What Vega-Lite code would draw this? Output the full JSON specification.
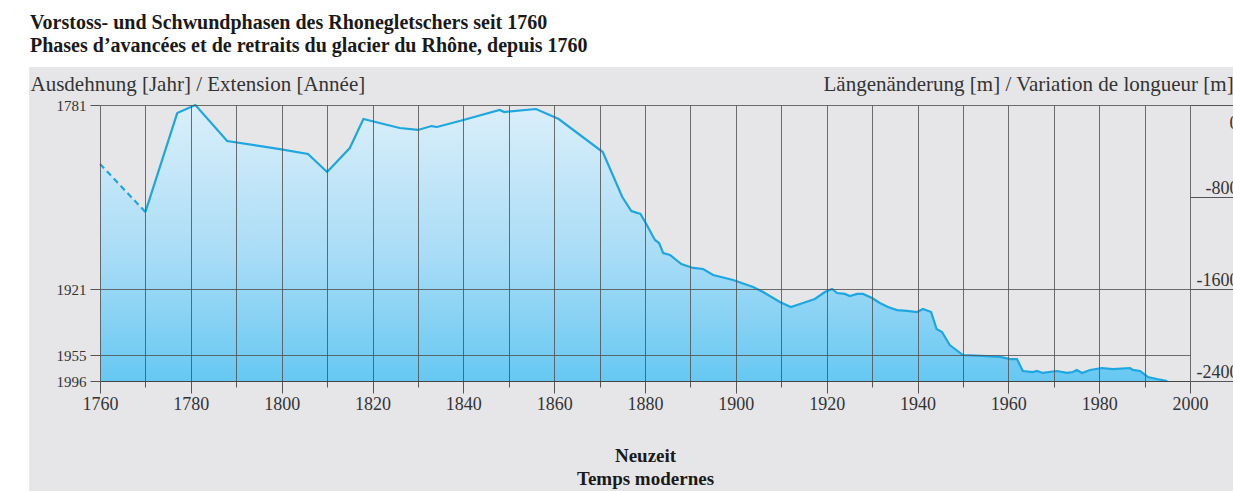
{
  "$schema": "https://vega.github.io/schema/vega-lite/v6.json",
  "width": 1090,
  "height": 276,
  "autosize": {"type": "none"},
  "padding": {"left": 100, "top": 105, "right": 43, "bottom": 110},
  "background": "white",
  "config": {
    "view": {"stroke": null},
    "font": "Liberation Serif",
    "axis": {"labelFont": "Liberation Serif", "titleFont": "Liberation Serif", "labelColor": "#333333", "titleColor": "#333333"}
  },
  "title": {
    "text": ["Vorstoss- und Schwundphasen des Rhonegletschers seit 1760", "Phases d’avancées et de retraits du glacier du Rhône, depuis 1760"],
    "font": "Liberation Serif",
    "fontSize": 20,
    "fontWeight": "bold",
    "color": "#1a1a1a",
    "anchor": "start",
    "frame": "group",
    "dx": -70,
    "lineHeight": 23,
    "offset": 11
  },
  "datasets": {
    "glacier": [
      {"year": 1760, "m": -513},
      {"year": 1770, "m": -930},
      {"year": 1777, "m": -70},
      {"year": 1781, "m": 0},
      {"year": 1788, "m": -313},
      {"year": 1799.6, "m": -383},
      {"year": 1805.8, "m": -426},
      {"year": 1810, "m": -583},
      {"year": 1815, "m": -374},
      {"year": 1818, "m": -122},
      {"year": 1826, "m": -200},
      {"year": 1830, "m": -217},
      {"year": 1833, "m": -183},
      {"year": 1834.2, "m": -191},
      {"year": 1840, "m": -130},
      {"year": 1848, "m": -43},
      {"year": 1849, "m": -61},
      {"year": 1856, "m": -35},
      {"year": 1861, "m": -122},
      {"year": 1870.7, "m": -409},
      {"year": 1875, "m": -800},
      {"year": 1877, "m": -922},
      {"year": 1879, "m": -948},
      {"year": 1880.4, "m": -1043},
      {"year": 1882.2, "m": -1174},
      {"year": 1883.1, "m": -1200},
      {"year": 1884, "m": -1287},
      {"year": 1885.5, "m": -1304},
      {"year": 1888, "m": -1383},
      {"year": 1890.6, "m": -1417},
      {"year": 1892.8, "m": -1426},
      {"year": 1895, "m": -1478},
      {"year": 1899.4, "m": -1522},
      {"year": 1903.8, "m": -1583},
      {"year": 1906, "m": -1626},
      {"year": 1909.7, "m": -1713},
      {"year": 1912.1, "m": -1757},
      {"year": 1914.8, "m": -1722},
      {"year": 1917.4, "m": -1687},
      {"year": 1919.6, "m": -1626},
      {"year": 1921.2, "m": -1600},
      {"year": 1922.3, "m": -1635},
      {"year": 1924, "m": -1643},
      {"year": 1925.1, "m": -1661},
      {"year": 1926.7, "m": -1643},
      {"year": 1928, "m": -1643},
      {"year": 1930, "m": -1678},
      {"year": 1931.7, "m": -1722},
      {"year": 1933.5, "m": -1757},
      {"year": 1935.5, "m": -1783},
      {"year": 1937.7, "m": -1791},
      {"year": 1939.9, "m": -1800},
      {"year": 1941.2, "m": -1774},
      {"year": 1943, "m": -1800},
      {"year": 1944.2, "m": -1948},
      {"year": 1945.4, "m": -1974},
      {"year": 1947.1, "m": -2087},
      {"year": 1950, "m": -2174},
      {"year": 1955.3, "m": -2183},
      {"year": 1958.2, "m": -2191},
      {"year": 1960.4, "m": -2209},
      {"year": 1961.9, "m": -2209},
      {"year": 1963.2, "m": -2313},
      {"year": 1965.4, "m": -2322},
      {"year": 1966.3, "m": -2313},
      {"year": 1967.6, "m": -2330},
      {"year": 1970.7, "m": -2313},
      {"year": 1972.9, "m": -2330},
      {"year": 1974.2, "m": -2322},
      {"year": 1975.1, "m": -2304},
      {"year": 1976.2, "m": -2330},
      {"year": 1978, "m": -2304},
      {"year": 1980.6, "m": -2287},
      {"year": 1983, "m": -2296},
      {"year": 1986.8, "m": -2287},
      {"year": 1987.4, "m": -2304},
      {"year": 1989, "m": -2313},
      {"year": 1990.7, "m": -2365},
      {"year": 1992.7, "m": -2383},
      {"year": 1995, "m": -2400}
    ]
  },
  "layer": [
    {
      "data": {"values": [{}]},
      "mark": {"type": "rect", "color": "#e6e6e8"},
      "encoding": {
        "x": {"datum": 1744.4, "type": "quantitative", "scale": {"domain": [1760, 2000], "nice": false, "zero": false}},
        "x2": {"datum": 2040},
        "y": {"datum": 330, "type": "quantitative", "scale": {"domain": [-2400, 0], "nice": false, "zero": false}, "axis": null},
        "y2": {"datum": -3600}
      }
    },
    {
      "data": {"name": "glacier"},
      "mark": {
        "type": "area",
        "line": false,
        "fill": {
          "gradient": "linear", "x1": 0, "y1": 0, "x2": 0, "y2": 1,
          "stops": [
            {"offset": 0, "color": "#dbeffa"},
            {"offset": 0.55, "color": "#a8dcf6"},
            {"offset": 1, "color": "#66c8f2"}
          ]
        }
      },
      "encoding": {
        "x": {
          "field": "year", "type": "quantitative",
          "scale": {"domain": [1760, 2000], "nice": false, "zero": false},
          "axis": {
            "values": [1760, 1770, 1780, 1790, 1800, 1810, 1820, 1830, 1840, 1850, 1860, 1870, 1880, 1890, 1900, 1910, 1920, 1930, 1940, 1950, 1960, 1970, 1980, 1990, 2000],
            "format": "d",
            "labelExpr": "datum.value % 20 === 0 ? datum.label : ''",
            "labelFontSize": 18,
            "labelPadding": 2,
            "labelFlush": false,
            "labelOverlap": false,
            "tickSize": {"condition": {"test": "datum.value % 20 === 0", "value": 12}, "value": 6},
            "tickColor": "#555555",
            "domainColor": "#444444",
            "grid": true,
            "gridColor": "#555555",
            "gridOpacity": 0.85,
            "zindex": 1,
            "title": ["Neuzeit", "Temps modernes"],
            "titleFontWeight": "bold",
            "titleFontSize": 19,
            "titleColor": "#1a1a1a",
            "titleBaseline": "top",
            "titleLineHeight": 23,
            "titleY": 65
          }
        },
        "y": {
          "field": "m", "type": "quantitative",
          "scale": {"domain": [-2400, 0], "nice": false, "zero": false},
          "axis": {
            "orient": "left",
            "values": [0, -1600, -2178, -2400],
            "labelExpr": "datum.value == 0 ? '1781' : datum.value == -1600 ? '1921' : datum.value == -2400 ? '1996' : '1955'",
            "labelFontSize": 15,
            "labelPadding": 4,
            "labelOverlap": false,
            "tickSize": 10,
            "tickColor": "#555555",
            "domain": false,
            "grid": true,
            "gridColor": "#555555",
            "gridOpacity": 0.85,
            "zindex": 1,
            "title": "Ausdehnung [Jahr] / Extension [Année]",
            "titleAngle": 0,
            "titleAlign": "left",
            "titleBaseline": "middle",
            "titleX": -70,
            "titleY": -21,
            "titleFontSize": 21,
            "titleFontWeight": "normal"
          }
        },
        "y2": {"datum": -2400}
      }
    },
    {
      "data": {"name": "glacier"},
      "transform": [{"filter": "datum.year >= 1770"}],
      "mark": {"type": "line", "color": "#1ea6e0", "strokeWidth": 2.2},
      "encoding": {
        "x": {"field": "year", "type": "quantitative", "scale": {"domain": [1760, 2000], "nice": false, "zero": false}},
        "y": {
          "field": "m", "type": "quantitative",
          "scale": {"domain": [-2400, 0], "nice": false, "zero": false},
          "axis": {
            "orient": "right",
            "values": [0, -800, -1600, -2400],
            "labelExpr": "datum.value == 0 ? '0' : '-' + abs(datum.value)",
            "labelAlign": "right",
            "labelPadding": -2,
            "labelFontSize": 18,
            "labelOverlap": false,
            "labelBaseline": {"condition": {"test": "datum.value == 0", "value": "top"}, "value": "bottom"},
            "labelOffset": {"condition": {"test": "datum.value == 0", "value": 9}, "value": 0},
            "tickSize": 50,
            "tickColor": "#555555",
            "domain": false,
            "grid": false,
            "zindex": 1,
            "title": "Längenänderung [m] / Variation de longueur [m]",
            "titleAngle": 0,
            "titleAlign": "left",
            "titleBaseline": "middle",
            "titleX": -367,
            "titleY": -21,
            "titleFontSize": 21,
            "titleFontWeight": "normal"
          }
        }
      }
    },
    {
      "data": {"name": "glacier"},
      "transform": [{"filter": "datum.year <= 1770"}],
      "mark": {"type": "line", "color": "#1ea6e0", "strokeWidth": 2.2, "strokeDash": [6, 4]},
      "encoding": {
        "x": {"field": "year", "type": "quantitative", "scale": {"domain": [1760, 2000], "nice": false, "zero": false}},
        "y": {
          "field": "m", "type": "quantitative",
          "scale": {"domain": [-2400, 0], "nice": false, "zero": false},
          "axis": {
            "orient": "right",
            "offset": 30,
            "values": [-400, -1200, -2000],
            "labels": false,
            "tickSize": 15,
            "tickColor": "#555555",
            "domain": false,
            "grid": false,
            "title": null
          }
        }
      }
    }
  ],
  "resolve": {"scale": {"y": "independent"}}
}
